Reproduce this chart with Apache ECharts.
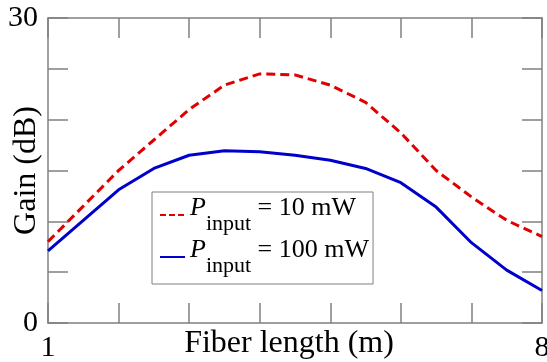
<!DOCTYPE html>
<html>
<head>
<meta charset="utf-8">
<script src="https://cdn.jsdelivr.net/npm/echarts@6/dist/echarts.min.js"></script>
<style>
  html, body { margin: 0; padding: 0; background: #fff; }
  #chart { width: 547px; height: 362px; }
</style>
</head>
<body>
<div id="chart"></div>
<script>
// fiber length (m), sampled every 0.5 m
const lengths = [1, 1.5, 2, 2.5, 3, 3.5, 4, 4.5, 5, 5.5, 6, 6.5, 7, 7.5, 8];
// gain (dB) for the two pump powers
const gain10mW = [8.0, 11.5, 15.0, 18.0, 21.0, 23.4, 24.5, 24.4, 23.4, 21.7, 18.7, 15.0, 12.4, 10.1, 8.5];
const gain100mW = [7.1, 10.1, 13.1, 15.2, 16.5, 16.95, 16.85, 16.5, 16.0, 15.2, 13.8, 11.4, 7.9, 5.2, 3.2];
const seriesNames = ['10 mW', '100 mW'];
const xTickLabels = [1, 8];
const yTickLabels = [0, 30];

const FONT = '"Liberation Serif", "Times New Roman", serif';
const AXIS_GRAY = '#808080';

const chart = echarts.init(document.getElementById('chart'));

const frameAxis = {
  axisLine: { show: true, onZero: false, lineStyle: { color: AXIS_GRAY, width: 1.5 } },
  axisTick: { show: true, inside: true, length: 20, lineStyle: { color: AXIS_GRAY, width: 1.5 } },
  splitLine: { show: false }
};

const option = {
  animation: false,
  textStyle: { fontFamily: FONT },
  grid: { left: 48, right: 5, top: 18, bottom: 39, containLabel: false, outerBoundsMode: 'none' },
  legend: {
    orient: 'vertical',
    left: 152,
    top: 192,
    padding: [3, 4, 7, 7],
    itemGap: 2,
    itemWidth: 25,
    itemHeight: 14,
    borderColor: AXIS_GRAY,
    borderWidth: 1,
    itemStyle: { opacity: 0 },
    data: [
      { name: seriesNames[0], lineStyle: { type: [6, 3] } },
      { name: seriesNames[1] }
    ],
    formatter: (name) => `{p|P}{s|input}{t| = ${name}}`,
    textStyle: {
      rich: {
        p: { fontFamily: FONT, fontSize: 26, fontStyle: 'italic', color: '#000', lineHeight: 26, padding: [0, 0, 14, 0] },
        s: { fontFamily: FONT, fontSize: 22, color: '#000', lineHeight: 22, padding: [18, 0, 0, 0] },
        t: { fontFamily: FONT, fontSize: 26, color: '#000', lineHeight: 26, padding: [0, 0, 14, 0] }
      }
    }
  },
  xAxis: [
    {
      ...frameAxis,
      type: 'value',
      min: 1,
      max: 8,
      interval: 1,
      name: 'Fiber length (m)',
      nameLocation: 'middle',
      nameGap: 5,
      nameMoveOverlap: false,
      nameTextStyle: { fontFamily: FONT, fontSize: 32, color: '#000', padding: [0, 12, 0, 0] },
      axisLabel: {
        margin: 10,
        fontFamily: FONT,
        fontSize: 30,
        color: '#000',
        formatter: (v) => (xTickLabels.includes(v) ? String(v) : '')
      }
    },
    {
      ...frameAxis,
      type: 'value',
      position: 'top',
      min: 1,
      max: 8,
      interval: 1,
      axisLabel: { show: false }
    }
  ],
  yAxis: [
    {
      ...frameAxis,
      type: 'value',
      min: 0,
      max: 30,
      interval: 5,
      name: 'Gain (dB)',
      nameLocation: 'middle',
      nameGap: 5,
      nameMoveOverlap: false,
      nameTextStyle: { fontFamily: FONT, fontSize: 32, color: '#000' },
      axisLabel: {
        margin: 10,
        fontFamily: FONT,
        fontSize: 30,
        color: '#000',
        formatter: (v) => (yTickLabels.includes(v) ? String(v) : '')
      }
    },
    {
      ...frameAxis,
      type: 'value',
      position: 'right',
      min: 0,
      max: 30,
      interval: 5,
      axisLabel: { show: false }
    }
  ],
  series: [
    {
      name: seriesNames[0],
      type: 'line',
      symbol: 'none',
      data: lengths.map((x, i) => [x, gain10mW[i]]),
      lineStyle: { color: '#e00000', width: 3, type: [9, 5] },
      itemStyle: { color: '#e00000' }
    },
    {
      name: seriesNames[1],
      type: 'line',
      symbol: 'none',
      data: lengths.map((x, i) => [x, gain100mW[i]]),
      lineStyle: { color: '#0000cc', width: 3 },
      itemStyle: { color: '#0000cc' }
    }
  ]
};

chart.setOption(option);
</script>
</body>
</html>
